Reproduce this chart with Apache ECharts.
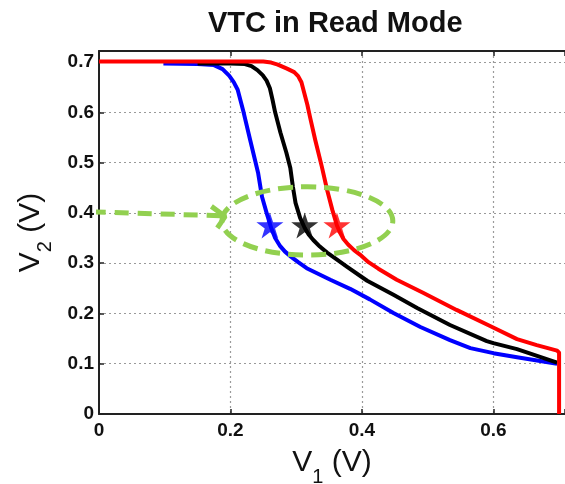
<!DOCTYPE html>
<html>
<head>
<meta charset="utf-8">
<script src="https://cdn.jsdelivr.net/npm/echarts@6/dist/echarts.min.js"></script>
<style>
  html, body { margin: 0; padding: 0; background: #fff; }
  #chart { width: 565px; height: 484px; }
</style>
</head>
<body>
<div id="chart"></div>
<script>
// values (V1, V2 in volts)
const blueV1 = [0.098, 0.15, 0.175, 0.188, 0.198, 0.205, 0.211, 0.216, 0.22, 0.23, 0.242, 0.248, 0.255, 0.262, 0.268, 0.275, 0.283, 0.292, 0.303, 0.316, 0.352, 0.382, 0.412, 0.448, 0.489, 0.534, 0.565, 0.6, 0.636, 0.697]
const blueV2 = [0.697, 0.696, 0.694, 0.686, 0.673, 0.66, 0.645, 0.62, 0.6, 0.545, 0.48, 0.432, 0.4, 0.37, 0.35, 0.335, 0.323, 0.313, 0.302, 0.29, 0.267, 0.249, 0.228, 0.201, 0.173, 0.147, 0.131, 0.121, 0.113, 0.1]

const blackV1 = [0.15, 0.2, 0.222, 0.232, 0.241, 0.249, 0.255, 0.26, 0.264, 0.268, 0.276, 0.285, 0.291, 0.295, 0.299, 0.306, 0.313, 0.319, 0.326, 0.336, 0.347, 0.36, 0.377, 0.408, 0.448, 0.484, 0.534, 0.59, 0.6, 0.636, 0.697]
const blackV2 = [0.697, 0.697, 0.696, 0.692, 0.684, 0.674, 0.663, 0.648, 0.625, 0.6, 0.56, 0.52, 0.49, 0.452, 0.42, 0.39, 0.37, 0.357, 0.346, 0.333, 0.321, 0.309, 0.293, 0.265, 0.237, 0.211, 0.177, 0.145, 0.141, 0.129, 0.102]

const redV1 = [0, 0.2, 0.25, 0.262, 0.272, 0.286, 0.297, 0.303, 0.308, 0.312, 0.317, 0.321, 0.329, 0.339, 0.347, 0.355, 0.362, 0.367, 0.372, 0.379, 0.388, 0.397, 0.41, 0.425, 0.453, 0.493, 0.544, 0.595, 0.636, 0.666, 0.697, 0.7, 0.7]
const redV2 = [0.701, 0.701, 0.701, 0.699, 0.695, 0.687, 0.68, 0.672, 0.66, 0.64, 0.615, 0.591, 0.545, 0.492, 0.446, 0.406, 0.375, 0.36, 0.348, 0.337, 0.326, 0.317, 0.302, 0.289, 0.267, 0.241, 0.207, 0.175, 0.149, 0.137, 0.126, 0.122, 0]

// operating points (stars)
const starV1 = [0.26, 0.313, 0.362]
const starV2 = [0.375, 0.375, 0.375]
const starColors = ['#0000ff', '#000000', '#ff0000']

// green annotation: ellipse round the stars and the dashed arrow pointing at it
const ellipseCenter = [0.317, 0.384]
const ellipseRadius = [0.13, 0.068]
const arrowV1 = [-0.151, 0.19]
const arrowV2 = [0.408, 0.394]
const arrowHeadV1 = [0.171, 0.192, 0.18]
const arrowHeadV2 = [0.413, 0.393, 0.37]

const X_MAX = 0.709
const Y_MAX = 0.722

const FONT = '"Liberation Sans", Arial, sans-serif'
const GREEN = '#92d050'
const STAR = 'path://M50,0 L61.8,36.2 L100,36.2 L69.1,58.6 L80.9,95 L50,72.6 L19.1,95 L30.9,58.6 L0,36.2 L38.2,36.2 Z'

const toPairs = (xs, ys) => xs.map((x, i) => [x, ys[i]])

const chart = echarts.init(document.getElementById('chart'))

const axisLineStyle = { color: '#222', width: 2 }
const gridLineStyle = { color: '#9a9a9a', width: 1.2, type: [2, 3] }
const nameRich = {
  v: { fontSize: 30, fontFamily: FONT, color: '#111' },
  s: { fontSize: 20, fontFamily: FONT, color: '#111', padding: [28, 0, 0, 0] },
}

const curve = (name, color, xs, ys) => ({
  name,
  type: 'line',
  data: toPairs(xs, ys),
  showSymbol: false,
  lineStyle: { color, width: 4, join: 'round' },
  itemStyle: { color },
  z: 3,
})

chart.setOption({
  animation: false,
  title: {
    text: 'VTC in Read Mode',
    left: 203,
    top: 4,
    textStyle: { fontFamily: FONT, fontSize: 29, fontWeight: 'bold', color: '#111' },
  },
  // keep the plot box exactly where it is in the picture
  grid: { left: 99, right: 0, top: 51, bottom: 70, outerBoundsMode: 'none' },
  xAxis: [
    {
      type: 'value',
      min: 0,
      max: X_MAX,
      interval: 0.2,
      position: 'bottom',
      axisLine: { show: true, lineStyle: axisLineStyle },
      axisTick: { show: true, inside: true, length: 5, lineStyle: { color: '#222', width: 1.5 } },
      axisLabel: {
        margin: 7,
        fontSize: 19,
        fontWeight: 'bold',
        fontFamily: FONT,
        color: '#111',
        formatter: (v) => (v > 0.65 ? '' : String(+v.toFixed(1))),
      },
      splitLine: { show: true, showMinLine: false, showMaxLine: false, lineStyle: gridLineStyle },
      name: '{v|V}{s|1}{v| (V)}',
      nameLocation: 'middle',
      nameGap: 25,
      nameTextStyle: { rich: nameRich },
    },
    {
      type: 'value',
      min: 0,
      max: X_MAX,
      interval: 0.2,
      position: 'top',
      axisLine: { show: true, lineStyle: axisLineStyle },
      axisTick: { show: true, inside: true, length: 5, lineStyle: { color: '#222', width: 1.5 } },
      axisLabel: { show: false },
      splitLine: { show: false },
    },
  ],
  yAxis: {
    type: 'value',
    min: 0,
    max: Y_MAX,
    interval: 0.1,
    axisLine: { show: true, lineStyle: axisLineStyle },
    axisTick: { show: true, inside: true, length: 5, lineStyle: { color: '#222', width: 1.5 } },
    axisLabel: {
      margin: 5,
      fontSize: 19,
      fontWeight: 'bold',
      fontFamily: FONT,
      color: '#111',
      formatter: (v) => (v > 0.71 ? '' : String(+v.toFixed(1))),
    },
    splitLine: { show: true, showMinLine: false, showMaxLine: false, lineStyle: gridLineStyle },
    name: '{v|V}{s|2}{v| (V)}',
    nameLocation: 'middle',
    nameGap: 44,
    nameTextStyle: { rich: nameRich },
  },
  series: [
    curve('blue', '#0000ff', blueV1, blueV2),
    curve('black', '#000000', blackV1, blackV2),
    curve('red', '#ff0000', redV1, redV2),
    {
      type: 'custom',
      coordinateSystem: 'cartesian2d',
      data: [[ellipseCenter[0], ellipseCenter[1], ellipseRadius[0], ellipseRadius[1]]],
      clip: false,
      z: 4,
      renderItem: (params, api) => {
        const c = api.coord([api.value(0), api.value(1)])
        const s = api.size([api.value(2), api.value(3)])
        return {
          type: 'ellipse',
          shape: { cx: c[0], cy: c[1], rx: s[0], ry: s[1] },
          style: { fill: 'none', stroke: GREEN, lineWidth: 5, lineDash: [15, 8] },
        }
      },
    },
    {
      type: 'line',
      data: toPairs(arrowV1, arrowV2),
      clip: false,
      showSymbol: false,
      lineStyle: { color: GREEN, width: 5, type: [14, 9] },
      z: 4,
    },
    {
      type: 'line',
      data: toPairs(arrowHeadV1, arrowHeadV2),
      clip: false,
      showSymbol: false,
      lineStyle: { color: GREEN, width: 5 },
      z: 4,
    },
    {
      type: 'scatter',
      symbol: STAR,
      symbolSize: [27, 26],
      data: starV1.map((x, i) => ({
        value: [x, starV2[i]],
        itemStyle: { color: starColors[i] },
      })),
      z: 5,
    },
  ],
})
</script>
</body>
</html>
